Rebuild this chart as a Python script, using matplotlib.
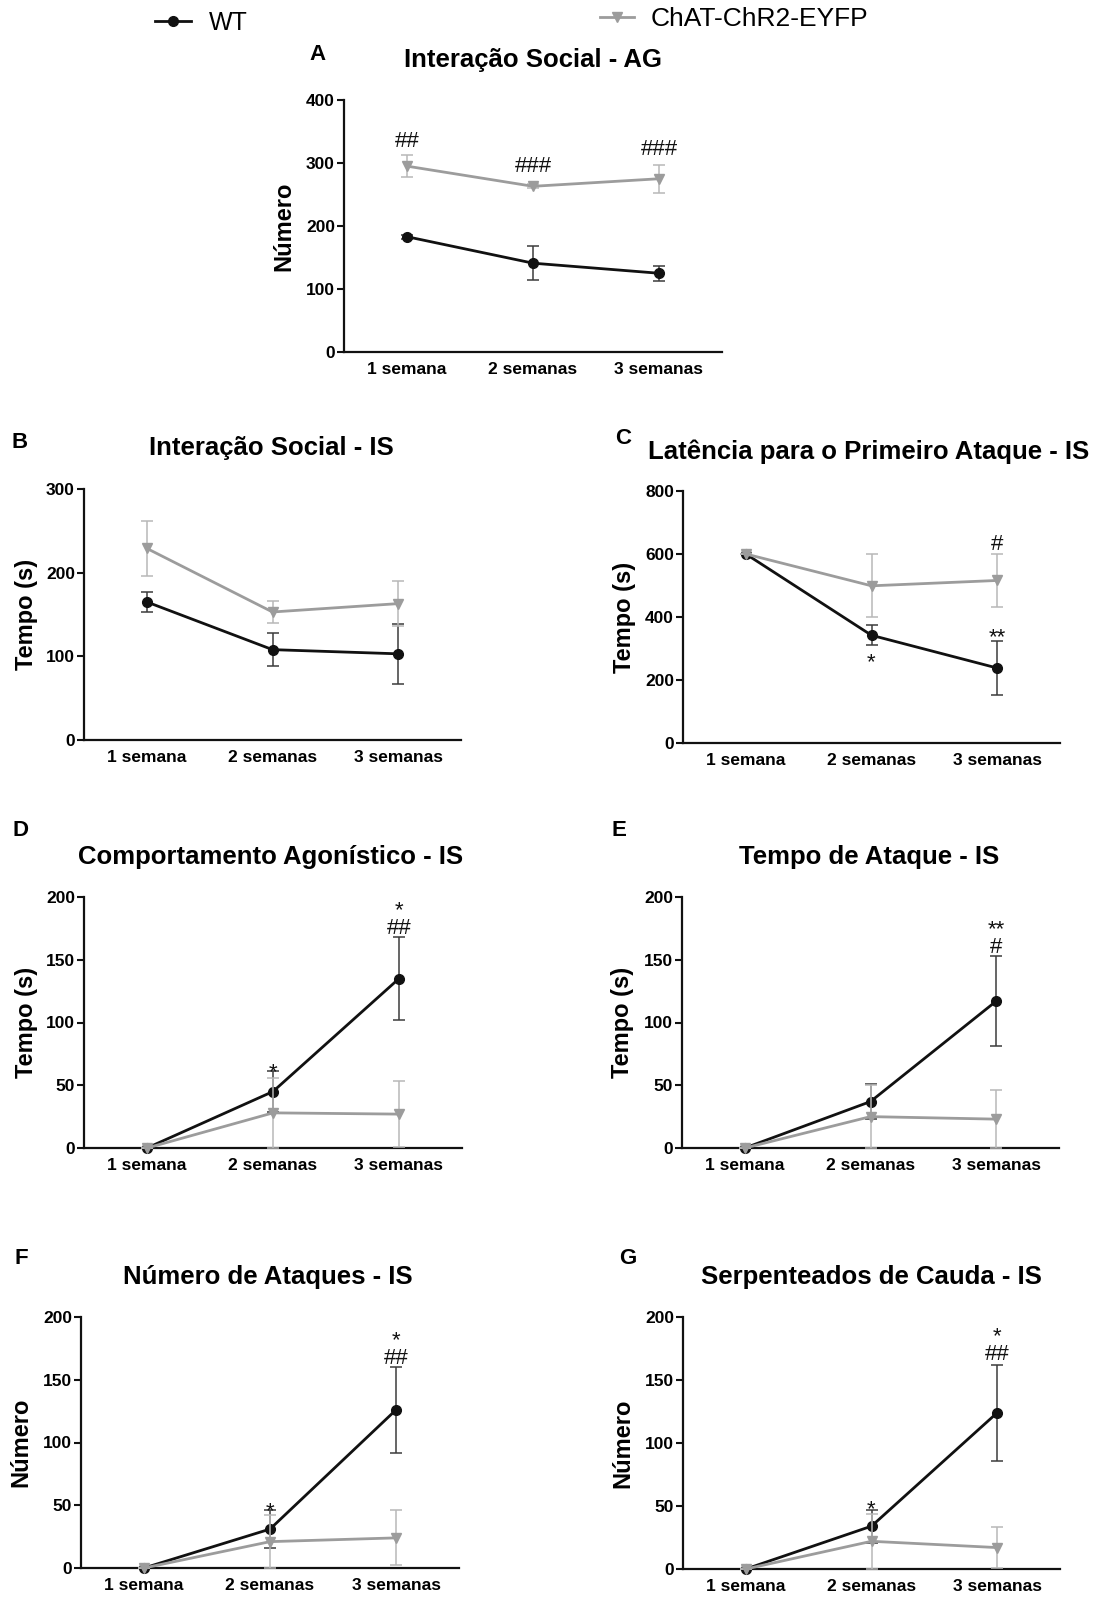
import matplotlib
matplotlib.use("Agg")
import matplotlib.pyplot as plt

plt.rcParams['font.family'] = ['Liberation Sans', 'DejaVu Sans']

# ---------------- data ----------------
weeks = ['1 semana', '2 semanas', '3 semanas']

wt_A = [183, 141, 125]
wt_A_err = [3, 27, 12]
chat_A = [295, 263, 275]
chat_A_err = [17, 3, 22]

wt_B = [165, 108, 103]
wt_B_err = [12, 20, 36]
chat_B = [229, 153, 163]
chat_B_err = [33, 13, 27]

wt_C = [600, 342, 238]
wt_C_err = [0, 32, 86]
chat_C = [600, 499, 516]
chat_C_err = [0, 100, 84]

wt_D = [0, 45, 135]
wt_D_err = [0, 16, 33]
chat_D = [0, 28, 27]
chat_D_err = [0, 28, 26]

wt_E = [0, 37, 117]
wt_E_err = [0, 14, 36]
chat_E = [0, 25, 23]
chat_E_err = [0, 25, 23]

wt_F = [0, 31, 126]
wt_F_err = [0, 15, 34]
chat_F = [0, 21, 24]
chat_F_err = [0, 21, 22]

wt_G = [0, 34, 124]
wt_G_err = [0, 13, 38]
chat_G = [0, 22, 17]
chat_G_err = [0, 22, 16]

titles = {
    'A': 'Interação Social - AG',
    'B': 'Interação Social - IS',
    'C': 'Latência para o Primeiro Ataque - IS',
    'D': 'Comportamento Agonístico - IS',
    'E': 'Tempo de Ataque - IS',
    'F': 'Número de Ataques - IS',
    'G': 'Serpenteados de Cauda - IS',
}
ylabels = {'A': 'Número', 'B': 'Tempo (s)', 'C': 'Tempo (s)', 'D': 'Tempo (s)',
           'E': 'Tempo (s)', 'F': 'Número', 'G': 'Número'}
yticks = {'A': [0, 100, 200, 300, 400], 'B': [0, 100, 200, 300],
          'C': [0, 200, 400, 600, 800], 'D': [0, 50, 100, 150, 200],
          'E': [0, 50, 100, 150, 200], 'F': [0, 50, 100, 150, 200],
          'G': [0, 50, 100, 150, 200]}
# significance marks: (week index, value of the lowest symbol row, text)
marks = {
    'A': [(0, 334, '##'), (1, 294, '###'), (2, 322, '###')],
    'B': [],
    'C': [(1, 273, '*'), (2, 352, '**'), (2, 631, '#')],
    'D': [(1, 65, '*'), (2, 178, '*\n##')],
    'E': [(2, 163, '**\n#')],
    'F': [(1, 50, '*'), (2, 170, '*\n##')],
    'G': [(1, 52, '*'), (2, 174, '*\n##')],
}
series = {
    'A': (wt_A, wt_A_err, chat_A, chat_A_err),
    'B': (wt_B, wt_B_err, chat_B, chat_B_err),
    'C': (wt_C, wt_C_err, chat_C, chat_C_err),
    'D': (wt_D, wt_D_err, chat_D, chat_D_err),
    'E': (wt_E, wt_E_err, chat_E, chat_E_err),
    'F': (wt_F, wt_F_err, chat_F, chat_F_err),
    'G': (wt_G, wt_G_err, chat_G, chat_G_err),
}

# ---------------- layout (pixels) ----------------
W, H = 1105, 1597
fig = plt.figure(figsize=(W / 100, H / 100), dpi=100)

layout = {
    'A': dict(rect=(344, 722, 100, 352), title=(533, 60), letter=(317, 55), ylab=284),
    'B': dict(rect=(84, 461, 489, 740), title=(271, 448), letter=(20, 442), ylab=26),
    'C': dict(rect=(683, 1060, 491, 743), title=(869, 452), letter=(623, 438), ylab=624),
    'D': dict(rect=(84, 462, 897, 1148), title=(271, 857), letter=(21, 830), ylab=26),
    'E': dict(rect=(682, 1059, 897, 1148), title=(869, 857), letter=(619, 830), ylab=623),
    'F': dict(rect=(81, 459, 1317, 1568), title=(268, 1277), letter=(21, 1258), ylab=21),
    'G': dict(rect=(683, 1060, 1317, 1569), title=(871, 1277), letter=(628, 1258), ylab=623),
}

BLACK = '#111111'
GREY = '#9c9c9c'
WT_ERR = '#3c3c3c'
CHAT_ERR = '#b8b8b8'

handles = {}
for key in 'ABCDEFG':
    lo = layout[key]
    l, r, t, b = lo['rect']
    ax = fig.add_axes([l / W, 1 - b / H, (r - l) / W, (b - t) / H])
    wt, wte, ch, che = series[key]
    x = list(range(len(weeks)))

    ax.errorbar(x, wt, yerr=wte, fmt='none', ecolor=WT_ERR, elinewidth=1.1,
                capsize=4, capthick=1.1, clip_on=False, zorder=2)
    l1, = ax.plot(x, wt, color=BLACK, lw=2.0, marker='o', ms=7, mfc=BLACK,
                  mec=BLACK, clip_on=False, zorder=3)
    ax.errorbar(x, ch, yerr=che, fmt='none', ecolor=CHAT_ERR, elinewidth=1.1,
                capsize=4, capthick=1.1, clip_on=False, zorder=4)
    l2, = ax.plot(x, ch, color=GREY, lw=2.0, marker='v', ms=7, mfc=GREY,
                  mec=GREY, clip_on=False, zorder=5)
    if key == 'A':
        handles['wt'] = l1
        handles['chat'] = l2

    yt = yticks[key]
    ax.set_xlim(-0.5, 2.5)
    ax.set_ylim(yt[0], yt[-1])
    ax.set_yticks(yt)
    ax.set_xticks(x)
    ax.set_xticklabels(weeks)
    for s in ('top', 'right'):
        ax.spines[s].set_visible(False)
    for s in ('left', 'bottom'):
        ax.spines[s].set_linewidth(1.6)
        ax.spines[s].set_color(BLACK)
    ax.tick_params(axis='y', length=5, width=1.5, pad=1.5, color=BLACK)
    ax.tick_params(axis='x', length=0, pad=7)
    for lab in ax.get_xticklabels() + ax.get_yticklabels():
        lab.set_fontsize(12.5)
        lab.set_fontweight('bold')

    ax.set_ylabel(ylabels[key], fontsize=17, fontweight='bold', va='center')
    ax.yaxis.set_label_coords((lo['ylab'] - l) / (r - l), 0.5)

    # significance marks
    for (xi, yv, s) in marks[key]:
        if '\n' in s:
            dy = 3.3
        elif s.startswith('*'):
            dy = -4.3
        else:
            dy = 0
        ax.annotate(s, (xi, yv), xytext=(0, dy), textcoords='offset points',
                    ha='center', va='center', fontsize=16,
                    linespacing=0.8, color=BLACK, annotation_clip=False)

    tx, ty = lo['title']
    fig.text(tx / W, 1 - ty / H, titles[key], ha='center', va='center',
             fontsize=18.5, fontweight='bold')
    lx, ly = lo['letter']
    fig.text(lx / W, 1 - ly / H, key, ha='center', va='center',
             fontsize=16, fontweight='bold')

# legend (two separate entries as in the reference)
fig.legend(handles=[handles['wt']], labels=['WT'], loc='center left',
           bbox_to_anchor=(155 / W, 1 - 23 / H), frameon=False, borderpad=0,
           borderaxespad=0, handlelength=1.45, handletextpad=0.7,
           prop=dict(size=18))
fig.legend(handles=[handles['chat']], labels=['ChAT-ChR2-EYFP'], loc='center left',
           bbox_to_anchor=(600 / W, 1 - 19 / H), frameon=False, borderpad=0,
           borderaxespad=0, handlelength=1.3, handletextpad=0.6,
           prop=dict(size=19))

fig.savefig('out.png', dpi=100)
